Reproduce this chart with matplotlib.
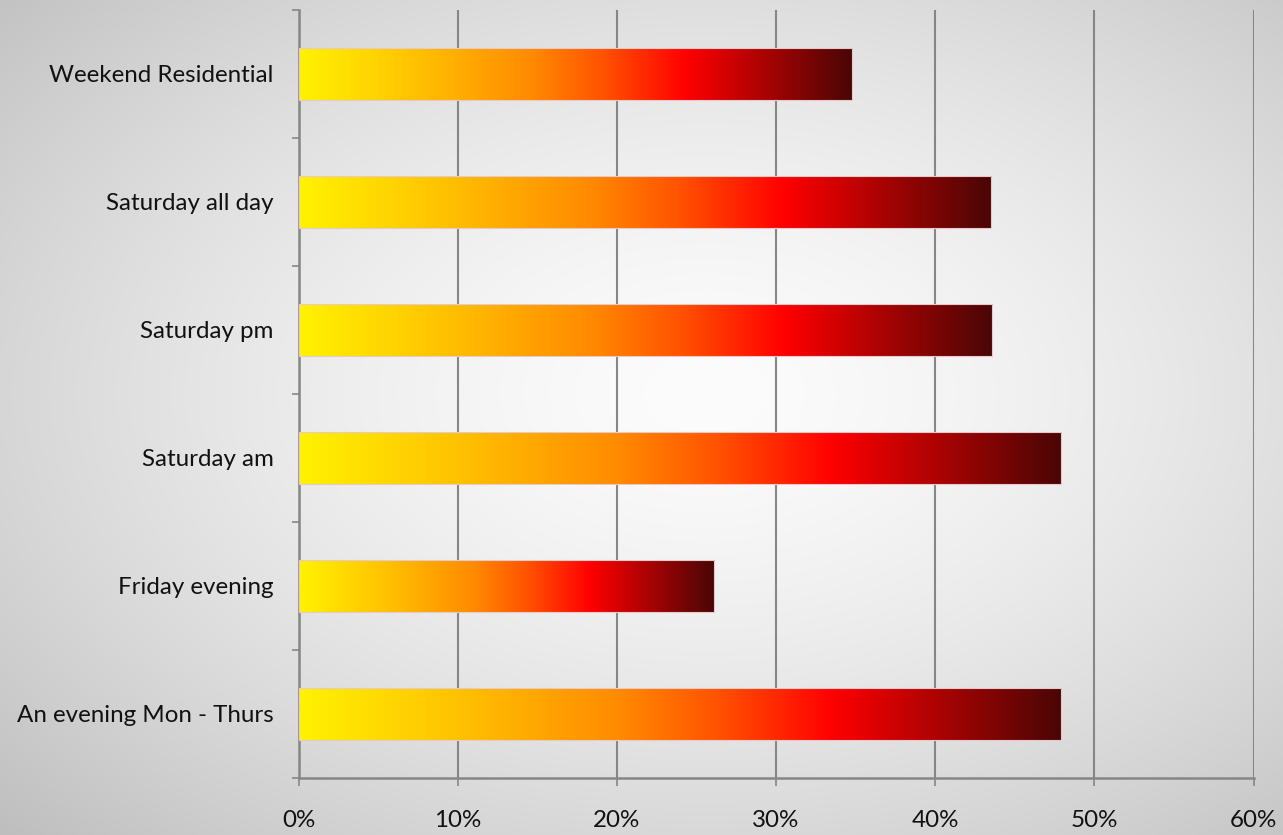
import numpy as np
import matplotlib
matplotlib.use("Agg")
import matplotlib.pyplot as plt
from matplotlib.colors import LinearSegmentedColormap

categories = ["An evening Mon - Thurs", "Friday evening", "Saturday am",
              "Saturday pm", "Saturday all day", "Weekend Residential"]
values = [0.479, 0.261, 0.479, 0.436, 0.435, 0.348]
xticks = [0, 0.1, 0.2, 0.3, 0.4, 0.5, 0.6]
xticklabels = ["0%", "10%", "20%", "30%", "40%", "50%", "60%"]

plt.rcParams['font.family'] = ['Lato', 'DejaVu Sans']

W, H = 1283, 835
fig = plt.figure(figsize=(W / 100, H / 100), dpi=100)

# radial background
bg = fig.add_axes([0, 0, 1, 1], zorder=-10)
yy, xx = np.mgrid[0:H, 0:W]
cx, cy = 0.55 * W, 0.47 * H
d = np.sqrt(((xx - cx) / (0.62 * W)) ** 2 + ((yy - cy) / (0.62 * H)) ** 2)
d = np.clip(d / d.max(), 0, 1)
g = 252 - 62 * d ** 1.5
bg.imshow(np.dstack([g, g, g]).astype(np.uint8), aspect='auto', extent=(0, 1, 0, 1))
bg.set_axis_off()

ax = fig.add_axes([298.5 / W, 1 - 778 / H, (1253.5 - 298.5) / W, (778 - 10) / H])
ax.patch.set_alpha(0)

cmap = LinearSegmentedColormap.from_list(
    "bar", [(0.0, "#FFF200"), (0.2, "#FFC400"), (0.42, "#FF8A00"),
            (0.55, "#FF5200"), (0.70, "#FF0000"), (1.0, "#4A0606")])
grad = np.linspace(0, 1, 512).reshape(1, -1)

ypos = np.arange(len(categories))
bars = ax.barh(ypos, values, height=0.4, facecolor='none',
               edgecolor='#E8C8C8', linewidth=0.8, zorder=4)
for b in bars:
    x0, y0 = b.get_x(), b.get_y()
    ax.imshow(grad, cmap=cmap, aspect='auto', zorder=3,
              extent=(x0, x0 + b.get_width(), y0, y0 + b.get_height()))

ax.set_xlim(0, 0.6)
ax.set_ylim(-0.5, len(categories) - 0.5)

gc = '#868686'
ax.set_xticks(xticks)
ax.set_xticklabels(xticklabels)
ax.xaxis.grid(True, color=gc, linewidth=1.5, zorder=1)
ax.set_axisbelow(True)

ax.set_yticks(np.arange(-0.5, len(categories), 1.0))
ax.set_yticklabels([])
ax.set_yticks(ypos, minor=True)
ax.set_yticklabels(categories, minor=True)

ax.tick_params(axis='y', which='major', length=5, width=1.2, color=gc)
ax.tick_params(axis='y', which='minor', length=0, pad=18, labelsize=17.4, labelcolor='#111111')
ax.tick_params(axis='x', which='major', length=6, width=1.2, color=gc, pad=17,
               labelsize=17.4, labelcolor='#111111')

for s in ['top', 'right']:
    ax.spines[s].set_visible(False)
for s in ['left', 'bottom']:
    ax.spines[s].set_color(gc)
    ax.spines[s].set_linewidth(1.8)

fig.savefig("out.png", dpi=100)
